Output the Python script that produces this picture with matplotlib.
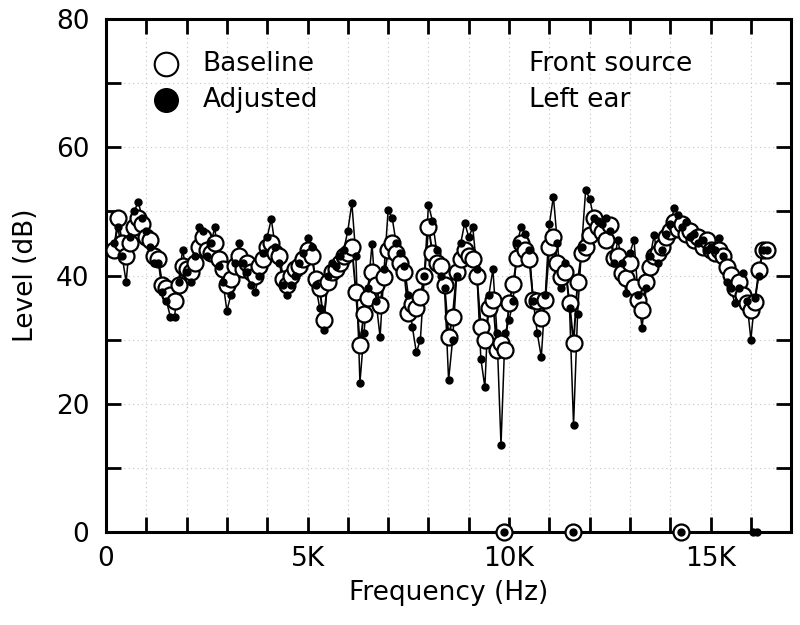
import matplotlib
matplotlib.use("Agg")
import matplotlib.pyplot as plt
from matplotlib.ticker import MultipleLocator, FuncFormatter

# frequency (Hz) of each measured point
freq = [200, 300, 400, 500, 600, 700, 800, 900, 1000, 1100,
        1200, 1300, 1400, 1500, 1600, 1700, 1800, 1900, 2000, 2100,
        2200, 2300, 2400, 2500, 2600, 2700, 2800, 2900, 3000, 3100,
        3200, 3300, 3400, 3500, 3600, 3700, 3800, 3900, 4000, 4100,
        4200, 4300, 4400, 4500, 4600, 4700, 4800, 4900, 5000, 5100,
        5200, 5300, 5400, 5500, 5600, 5700, 5800, 5900, 6000, 6100,
        6200, 6300, 6400, 6500, 6600, 6700, 6800, 6900, 7000, 7100,
        7200, 7300, 7400, 7500, 7600, 7700, 7800, 7900, 8000, 8100,
        8200, 8300, 8400, 8500, 8600, 8700, 8800, 8900, 9000, 9100,
        9200, 9300, 9400, 9500, 9600, 9700, 9800, 9900, 10000, 10100,
        10200, 10300, 10400, 10500, 10600, 10700, 10800, 10900, 11000, 11100,
        11200, 11300, 11400, 11500, 11600, 11700, 11800, 11900, 12000, 12100,
        12200, 12300, 12400, 12500, 12600, 12700, 12800, 12900, 13000, 13100,
        13200, 13300, 13400, 13500, 13600, 13700, 13800, 13900, 14000, 14100,
        14200, 14300, 14400, 14500, 14600, 14700, 14800, 14900, 15000, 15100,
        15200, 15300, 15400, 15500, 15600, 15700, 15800, 15900, 16000, 16100,
        16200, 16300, 16400]

baseline = [44, 49, 45, 43, 45, 47.5, 49, 48, 46, 45.5,
            43, 42.5, 38.5, 38, 37, 36, 38.5, 41.5, 41, 40.5,
            42, 44.5, 46, 44, 43.5, 45, 42.5, 41, 38.5, 39.5,
            41.5, 43, 41, 42, 40.5, 40, 41.5, 42.5, 44.5, 45,
            43.5, 43, 39.5, 38.5, 40, 41, 41.5, 42.5, 44, 43,
            39.5, 38, 33, 39, 40.5, 41, 42, 43, 43.5, 44.4,
            37.4, 29.2, 34, 36.5, 40.5, 38.5, 35.4, 39.8, 44, 45,
            43.5, 42, 40.5, 34.2, 35.5, 35, 36.7, 40, 47.6, 43.5,
            42, 41.5, 38.5, 30.4, 33.5, 40.5, 42.5, 44, 43, 42.5,
            40, 32, 30, 35, 36.2, 28.4, 29.5, 28.4, 35.7, 38.7,
            42.8, 45, 44, 42.5, 36.2, 36, 33.4, 36.2, 44.5, 46,
            42, 39.8, 40.5, 35.7, 29.5, 39, 43.5, 44.5, 46.3, 49,
            47.6, 46.8, 45.5, 47.9, 42.7, 43, 40.4, 39.6, 42, 38.2,
            36.2, 34.6, 39, 41.3, 43, 43.5, 44.5, 46, 47, 48.4,
            47.2, 48, 46.5, 47, 45.5, 46, 44.5, 45.5, 44, 43.5,
            44, 43, 41.3, 40.1, 38, 39, 37, 35.7, 34.6, 35.9,
            40.9, 44, 44]

adjusted = [45, 47.5, 43, 39, 46, 50, 51.5, 49, 47, 44.5,
            42, 42, 37.5, 36, 33.5, 33.5, 39, 44, 40.5, 39,
            43, 47.5, 47, 43, 45, 47.5, 41.5, 39, 34.5, 37,
            42, 45, 42, 40.5, 38.5, 37.5, 40, 43.5, 46, 48.8,
            44.5, 42, 38.5, 37, 38.5, 40, 42, 43.5, 45.8, 44.5,
            38.5, 35, 31.5, 40, 42, 41.5, 43, 44, 47, 51.3,
            43, 23.3, 31, 38, 44.9, 36, 30.4, 41, 50.2, 49,
            45, 43.5, 41.5, 37, 32, 28, 30, 40, 51, 48.5,
            44, 40, 38, 23.7, 30, 40, 45, 48.2, 46, 47.5,
            41, 27, 22.6, 37, 41, 31, 13.6, 31, 33, 36,
            45, 47.6, 46.5, 44, 36, 31, 27.3, 37, 48, 52.3,
            45, 38, 42, 35, 16.7, 34, 44.5, 53.3, 52, 49,
            48.5, 48, 49, 47, 42, 45.6, 42, 37.3, 43.5, 45.6,
            37, 31.8, 38, 43, 46.3, 42, 44, 46.5, 48, 50.5,
            49.5, 47.5, 48.3, 46, 46.5, 45, 45.5, 44, 44.5, 44,
            45.9, 43, 39, 38, 35.7, 38, 40.4, 36, 30, 36.5,
            40, 44, 44]

# drop-out points plotted on the 0 dB line
zero_freq_base = [9880, 11580, 14260]
zero_freq_adj = [9880, 11580, 14260, 16050, 16150]

plt.rcParams['font.family'] = ['DejaVu Sans']

fig = plt.figure(figsize=(8, 6.25), dpi=100)
ax = fig.add_axes([0.1325, 0.1488, 0.8565, 0.8208])

ax.plot(freq, adjusted, color='k', lw=1.1, zorder=2)
ax.plot(freq, baseline, color='k', lw=1.4, marker='o', ms=11.5,
        mfc='white', mec='k', mew=1.6, zorder=3)
ax.plot(freq, adjusted, ls='none', marker='o', ms=5, color='k', zorder=4)

ax.plot(zero_freq_base, [0] * len(zero_freq_base), ls='none', marker='o',
        ms=11.5, mfc='white', mec='k', mew=1.6, zorder=5, clip_on=False)
ax.plot(zero_freq_adj, [0] * len(zero_freq_adj), ls='none', marker='o',
        ms=5, color='k', zorder=6, clip_on=False)

ax.set_xlim(0, 17000)
ax.set_ylim(0, 80)
ax.xaxis.set_major_locator(MultipleLocator(1000))
ax.yaxis.set_major_locator(MultipleLocator(10))
ax.xaxis.set_major_formatter(FuncFormatter(
    lambda v, p: ('0' if v == 0 else '%dK' % (v / 1000)) if v % 5000 == 0 else ''))
ax.yaxis.set_major_formatter(FuncFormatter(
    lambda v, p: '%d' % v if v % 20 == 0 else ''))

ax.grid(True, color='#c4c4c4', ls=(0, (1, 3)), lw=0.8)
ax.tick_params(direction='in', length=11, width=2, top=True, right=True,
               labelsize=19)
ax.tick_params(axis='x', pad=10)
ax.tick_params(axis='y', pad=12)
for s in ax.spines.values():
    s.set_linewidth(2.2)

ax.set_xlabel('Frequency (Hz)', fontsize=19, labelpad=6)
ax.set_ylabel('Level (dB)', fontsize=19, labelpad=12)

# legend drawn by hand, as in the original figure
ax.plot([1500], [73], marker='o', ms=17, mfc='white', mec='k', mew=1.5,
        ls='none', clip_on=False)
ax.plot([1500], [67.4], marker='o', ms=17, color='k', ls='none', clip_on=False)
ax.text(2400, 73, 'Baseline', fontsize=19, va='center', ha='left')
ax.text(2400, 67.4, 'Adjusted', fontsize=19, va='center', ha='left')
ax.text(10500, 73, 'Front source', fontsize=19, va='center', ha='left')
ax.text(10500, 67.4, 'Left ear', fontsize=19, va='center', ha='left')

fig.savefig('out.png', dpi=100)
